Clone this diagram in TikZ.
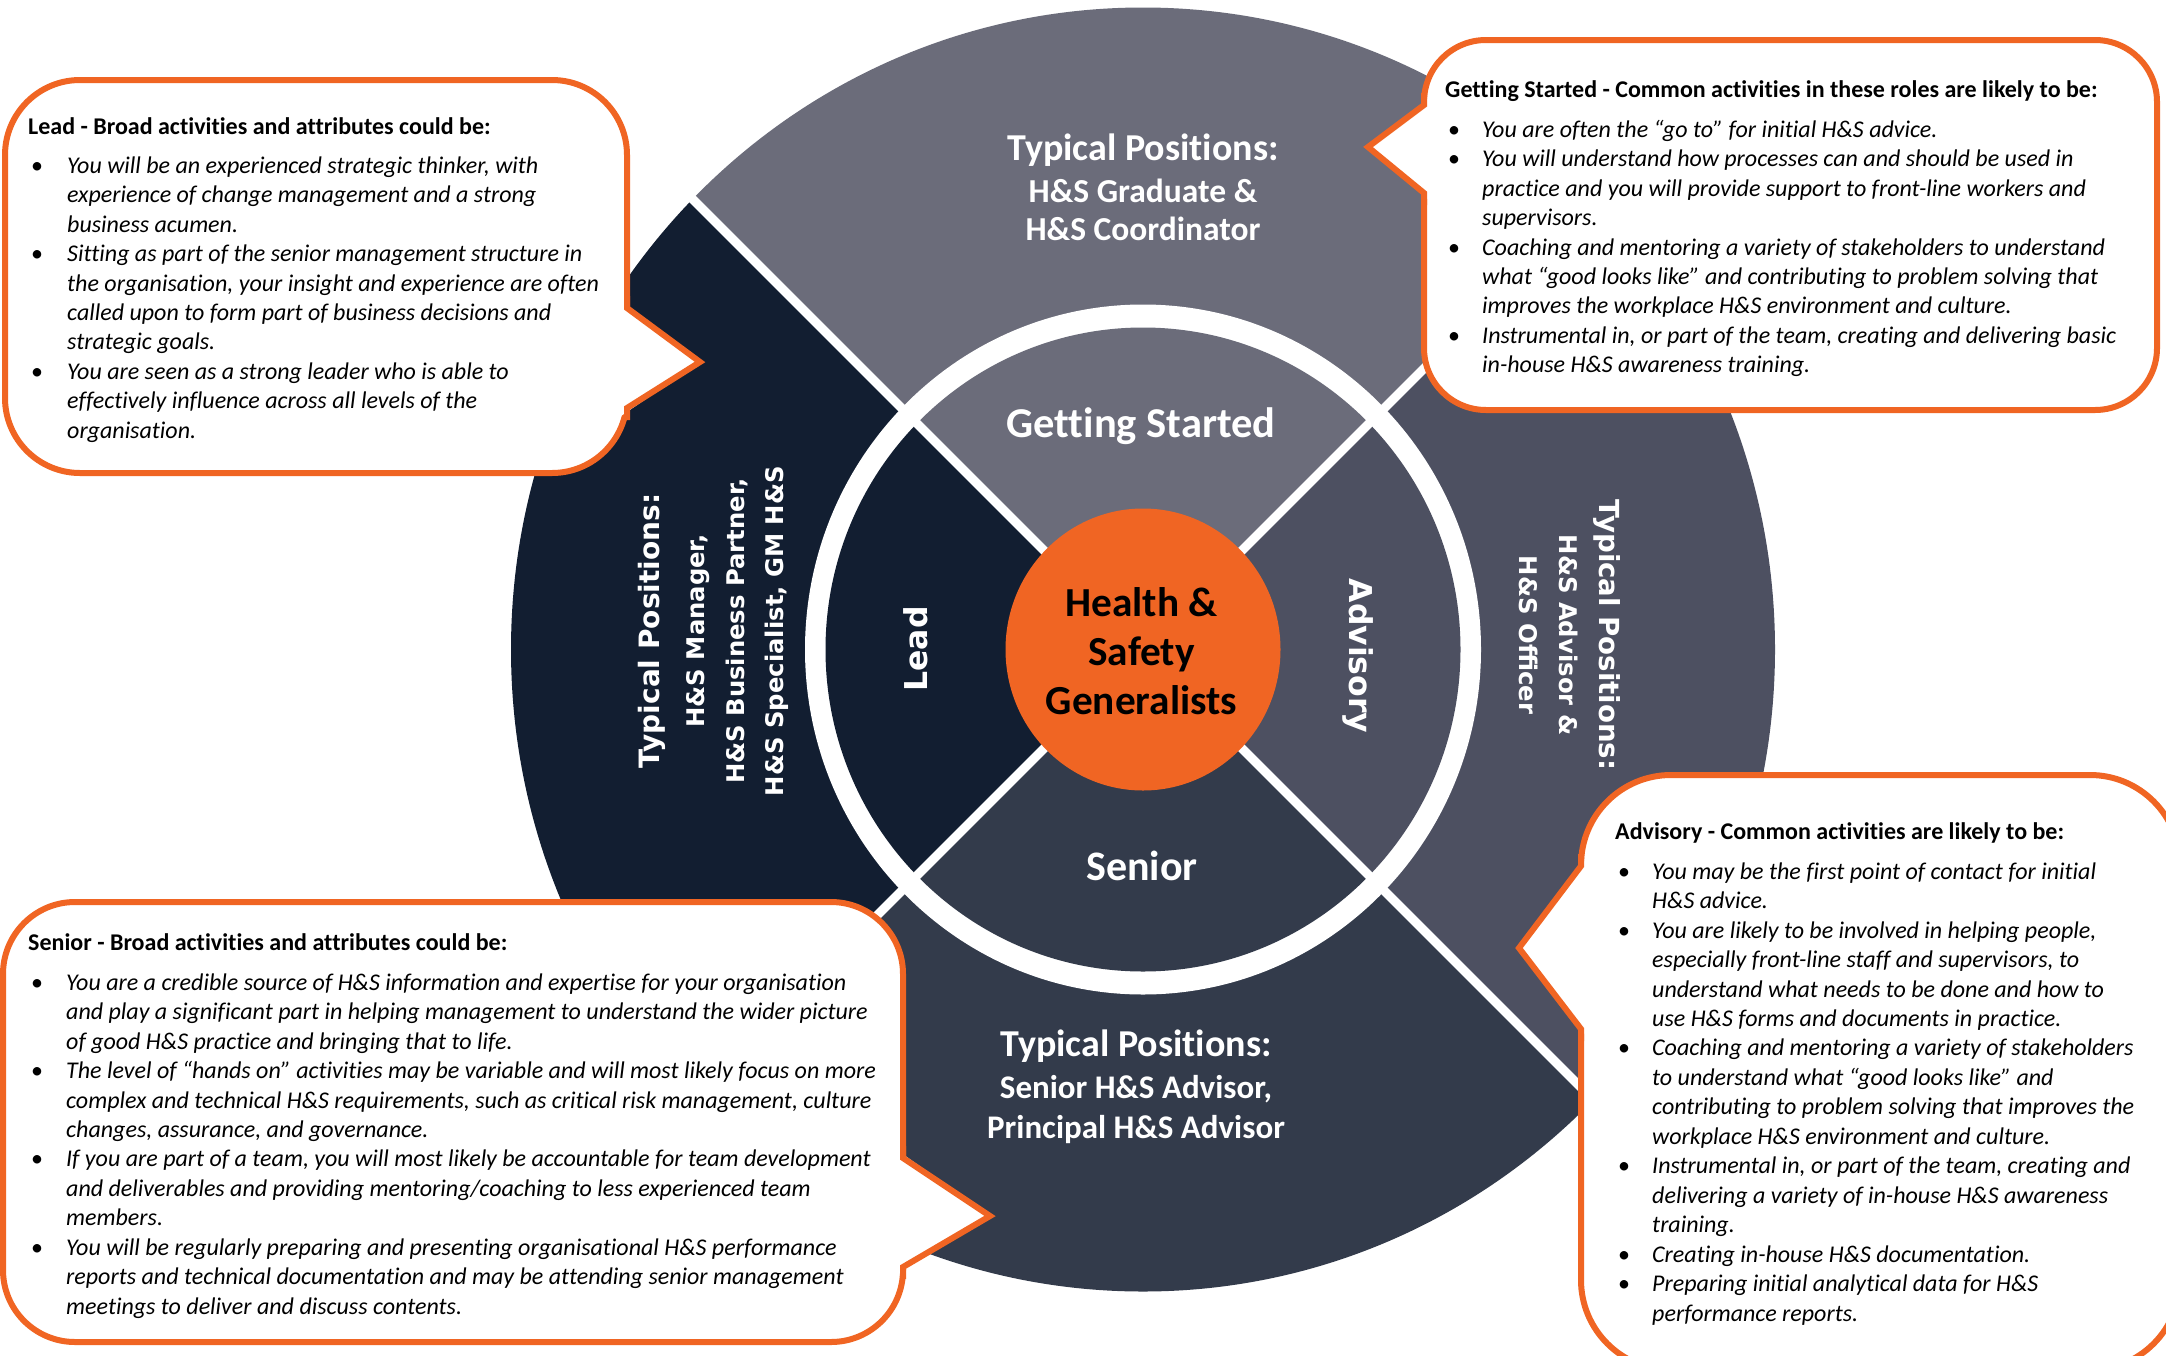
\documentclass[tikz,border=0pt]{standalone}
\usepackage{fontspec}
\usepackage{array}
\setmainfont{Carlito}[Ligatures=NoCommon]
\newfontfamily\dvsans{DejaVu Sans}
\definecolor{gsgrey}{HTML}{6B6C7A}
\definecolor{advgrey}{HTML}{4D5061}
\definecolor{sengrey}{HTML}{333B4B}
\definecolor{leadnavy}{HTML}{121E31}
\definecolor{hsorange}{HTML}{F06523}
\newcolumntype{T}{>{\itshape}l@{}}
\newcommand\bhead[1]{\multicolumn{2}{@{}l@{}}{\bfseries #1}}
\newcommand\bul{\hspace*{3pt}\textbullet}
\tikzset{
  callout/.style={fill=white, draw=hsorange, line width=6pt, rounded corners=#1},
  calloutedge/.style={draw=hsorange, line width=6pt, line join=miter},
  boxtext/.style={anchor=north west, inner sep=0pt, text=black, font=\fontsize{24}{29.45}\selectfont},
  ringbold/.style={text=white, inner sep=0pt, font=\bfseries\fontsize{#1}{#1}\selectfont},
  dvbold/.style={text=white, inner sep=0pt, font=\dvsans\bfseries\fontsize{#1}{#1}\selectfont},
  divider/.style={white, line width=9pt}
}
\begin{document}
\begin{tikzpicture}[x=1pt,y=-1pt]
\useasboundingbox (0,0) rectangle (2166,1355);
\begin{scope}
\clip (0,0) rectangle (2166,1355);
\fill[white] (0,0) rectangle (2166,1355);
\coordinate (C) at (1143,649.5);
% outer ring sectors
\begin{scope}\clip (C) -- ++(-900,-900) -- ++(1800,0) -- cycle;
  \fill[gsgrey] (C) ellipse [x radius=632, y radius=642];\end{scope}
\begin{scope}\clip (C) -- ++(900,-900) -- ++(0,1800) -- cycle;
  \fill[advgrey] (C) ellipse [x radius=632, y radius=642];\end{scope}
\begin{scope}\clip (C) -- ++(900,900) -- ++(-1800,0) -- cycle;
  \fill[sengrey] (C) ellipse [x radius=632, y radius=642];\end{scope}
\begin{scope}\clip (C) -- ++(-900,900) -- ++(0,-1800) -- cycle;
  \fill[leadnavy] (C) ellipse [x radius=632, y radius=642];\end{scope}
% white ring
\fill[white] (C) ellipse [x radius=338, y radius=345];
% inner sectors
\begin{scope}\clip (C) -- ++(-900,-900) -- ++(1800,0) -- cycle;
  \fill[gsgrey] (C) ellipse [x radius=317.5, y radius=322];\end{scope}
\begin{scope}\clip (C) -- ++(900,-900) -- ++(0,1800) -- cycle;
  \fill[advgrey] (C) ellipse [x radius=317.5, y radius=322];\end{scope}
\begin{scope}\clip (C) -- ++(900,900) -- ++(-1800,0) -- cycle;
  \fill[sengrey] (C) ellipse [x radius=317.5, y radius=322];\end{scope}
\begin{scope}\clip (C) -- ++(-900,900) -- ++(0,-1800) -- cycle;
  \fill[leadnavy] (C) ellipse [x radius=317.5, y radius=322];\end{scope}
% dividers
\draw[divider] (C) ++(-700,-700) -- ++(1400,1400);
\draw[divider] (C) ++(-700,700) -- ++(1400,-1400);
% centre
\fill[hsorange] (C) ellipse [x radius=137.5, y radius=141];
\node[inner sep=0pt, align=center, text=black, font=\bfseries\fontsize{41.3}{49}\selectfont] (hs) at (1141.5,651) {Health \&\\Safety\\Generalists};
% ring texts
\node[ringbold=38, anchor=base] (tpA) at (1143,160.5) {Typical Positions:};
\node[ringbold=33.5, anchor=base] (tpB) at (1143,202) {H\&S Graduate \&};
\node[ringbold=33.5, anchor=base] (tpC) at (1143,240) {H\&S Coordinator};
\node[ringbold=42.5, anchor=base] (gs) at (1141,437) {Getting Started};
\node[ringbold=42, anchor=base] (senior) at (1142,880) {Senior};
\node[ringbold=38, anchor=base] (bpA) at (1136,1056.5) {Typical Positions:};
\node[ringbold=33, anchor=base] (bpB) at (1136,1098) {Senior H\&S Advisor,};
\node[ringbold=33, anchor=base] (bpC) at (1136,1138) {Principal H\&S Advisor};
\node[dvbold=31.5, rotate=90] (lead) at (916,649) {Lead};
\node[dvbold=31.5, rotate=-90] (adv) at (1358,656) {Advisory};
\node[dvbold=28, rotate=90, anchor=base] (lpA) at (659,631) {Typical Positions:};
\node[dvbold=24.3, rotate=90, anchor=base] (lpB) at (704,631) {H\&S Manager,};
\node[dvbold=24.3, rotate=90, anchor=base] (lpC) at (744,631) {H\&S Business Partner,};
\node[dvbold=24.3, rotate=90, anchor=base] (lpD) at (783,631) {H\&S Specialist, GM H\&S};
\node[dvbold=27.6, rotate=-90, anchor=base] (rpA) at (1599,635) {Typical Positions:};
\node[dvbold=24.3, rotate=-90, anchor=base] (rpB) at (1559,635) {H\&S Advisor \&};
\node[dvbold=24.3, rotate=-90, anchor=base] (rpC) at (1519,635) {H\&S Officer};
% Lead callout
\draw[callout=75] (5,80) rectangle (627,473);
\fill[white] (621,300) -- (700,362) -- (621,416) -- cycle;
\draw[calloutedge] (627,296) -- (627,308) -- (700,362) -- (627,408) -- (627,420);
\node[boxtext] (leadtxt) at (28,114) {\begin{tabular}{@{}p{39pt}@{}T}
\bhead{Lead - Broad activities and attributes could be:}\\[9pt]
\bul & You will be an experienced strategic thinker, with\\
 & experience of change management and a strong\\
 & business acumen.\\
\bul & Sitting as part of the senior management structure in\\
 & the organisation, your insight and experience are often\\
 & called upon to form part of business decisions and\\
 & strategic goals.\\
\bul & You are seen as a strong leader who is able to\\
 & effectively influence across all levels of the\\
 & organisation.
\end{tabular}};
% Getting Started callout
\draw[callout=62] (1424,40) rectangle (2157,410);
\fill[white] (1430,97) -- (1368,147) -- (1430,201) -- cycle;
\draw[calloutedge] (1424,93) -- (1424,105) -- (1368,147) -- (1424,193) -- (1424,205);
\node[boxtext] (gstxt) at (1445,77) {\begin{tabular}{@{}p{37pt}@{}T}
\bhead{Getting Started - Common activities in these roles are likely to be:}\\[10pt]
\bul & You are often the “go to” for initial H\&S advice.\\
\bul & You will understand how processes can and should be used in\\
 & practice and you will provide support to front-line workers and\\
 & supervisors.\\
\bul & Coaching and mentoring a variety of stakeholders to understand\\
 & what “good looks like” and contributing to problem solving that\\
 & improves the workplace H\&S environment and culture.\\
\bul & Instrumental in, or part of the team, creating and delivering basic\\
 & in-house H\&S awareness training.
\end{tabular}};
% Senior callout
\draw[callout=72] (3,902) rectangle (903,1342);
\fill[white] (897,1150) -- (990,1216) -- (897,1275) -- cycle;
\draw[calloutedge] (903,1146) -- (903,1158) -- (990,1216) -- (903,1267) -- (903,1279);
\node[boxtext] (sentxt) at (28,930) {\begin{tabular}{@{}p{38pt}@{}T}
\bhead{Senior - Broad activities and attributes could be:}\\[10pt]
\bul & You are a credible source of H\&S information and expertise for your organisation\\
 & and play a significant part in helping management to understand the wider picture\\
 & of good H\&S practice and bringing that to life.\\
\bul & The level of “hands on” activities may be variable and will most likely focus on more\\
 & complex and technical H\&S requirements, such as critical risk management, culture\\
 & changes, assurance, and governance.\\
\bul & If you are part of a team, you will most likely be accountable for team development\\
 & and deliverables and providing mentoring/coaching to less experienced team\\
 & members.\\
\bul & You will be regularly preparing and presenting organisational H\&S performance\\
 & reports and technical documentation and may be attending senior management\\
 & meetings to deliver and discuss contents.
\end{tabular}};
% Advisory callout
\draw[callout=90] (1581,775) rectangle (2180,1370);
\fill[white] (1587,858) -- (1519,948) -- (1587,1037) -- cycle;
\draw[calloutedge] (1581,854) -- (1581,866) -- (1519,948) -- (1581,1029) -- (1581,1041);
\node[boxtext] (advtxt) at (1615,819) {\begin{tabular}{@{}p{37pt}@{}T}
\bhead{Advisory - Common activities are likely to be:}\\[10pt]
\bul & You may be the first point of contact for initial\\
 & H\&S advice.\\
\bul & You are likely to be involved in helping people,\\
 & especially front-line staff and supervisors, to\\
 & understand what needs to be done and how to\\
 & use H\&S forms and documents in practice.\\
\bul & Coaching and mentoring a variety of stakeholders\\
 & to understand what “good looks like” and\\
 & contributing to problem solving that improves the\\
 & workplace H\&S environment and culture.\\
\bul & Instrumental in, or part of the team, creating and\\
 & delivering a variety of in-house H\&S awareness\\
 & training.\\
\bul & Creating in-house H\&S documentation.\\
\bul & Preparing initial analytical data for H\&S\\
 & performance reports.
\end{tabular}};
\end{scope}
\end{tikzpicture}
\end{document}
